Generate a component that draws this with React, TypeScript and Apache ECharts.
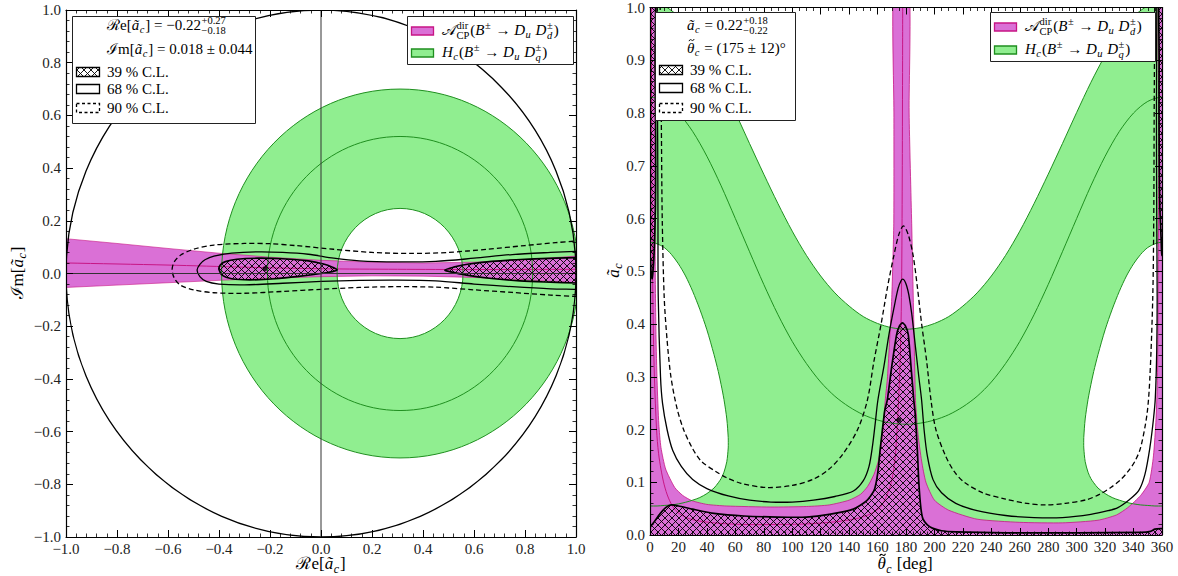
import React, { useEffect, useRef } from "react";
import * as echarts from "echarts";

type Pt = [number, number];

const FONT = '"Liberation Serif", "DejaVu Serif", serif';
const GREEN = "#90ee90";
const GREEN_EDGE = "#1f8f1f";
const ORCHID = "#da70d6";
const MVR = "#c71585";

// ================= Left panel: complex plane of a_c =================
const hcCenter: Pt = [0.31, 0];
const hcOuterR = 0.7;
const hcMiddleR = 0.52;
const hcInnerR = 0.247;
const unitCenter: Pt = [0, 0];
const unitR = 1;

const acpUpper: Pt[] = [[-1.05, 0.136], [-1.0, 0.132], [-0.8, 0.114], [-0.6, 0.095], [-0.4, 0.077], [-0.2, 0.062], [0.0, 0.05], [0.2, 0.043], [0.4, 0.04], [0.6, 0.043], [0.8, 0.052], [1.0, 0.066], [1.05, 0.07]];
const acpLower: Pt[] = [[-1.05, -0.056], [-1.0, -0.053], [-0.8, -0.044], [-0.6, -0.035], [-0.4, -0.026], [-0.2, -0.018], [0.0, -0.012], [0.2, -0.009], [0.4, -0.01], [0.6, -0.015], [0.8, -0.024], [1.0, -0.035], [1.05, -0.038]];
const acpCenter: Pt[] = [[-1.05, 0.041], [-1.0, 0.04], [-0.6, 0.032], [-0.3, 0.024], [0.0, 0.018], [0.3, 0.016], [0.6, 0.015], [1.0, 0.016], [1.05, 0.016]];

const cl39LobeLeft: Pt[] = [[-0.4, 0.015], [-0.395, 0.032], [-0.375, 0.045], [-0.33, 0.054], [-0.25, 0.058], [-0.15, 0.056], [-0.05, 0.048], [0.01, 0.036], [0.045, 0.024], [0.063, 0.014], [0.045, 0.007], [0.0, 0.0], [-0.08, -0.01], [-0.18, -0.02], [-0.28, -0.024], [-0.35, -0.02], [-0.385, -0.008]];
const cl39LobeRight: Pt[] = [[0.486, 0.013], [0.52, 0.024], [0.58, 0.036], [0.67, 0.046], [0.8, 0.054], [0.92, 0.058], [1.0, 0.06], [1.06, 0.061], [1.06, -0.038], [1.0, -0.036], [0.9, -0.033], [0.78, -0.028], [0.66, -0.018], [0.57, -0.006], [0.51, 0.006]];
const cl68Contour: Pt[] = [[-0.486, 0.013], [-0.475, 0.035], [-0.455, 0.052], [-0.42, 0.066], [-0.35, 0.077], [-0.25, 0.082], [-0.15, 0.08], [-0.05, 0.073], [0.05, 0.058], [0.15, 0.048], [0.3, 0.044], [0.45, 0.046], [0.6, 0.058], [0.75, 0.072], [0.9, 0.08], [1.0, 0.084], [1.06, 0.086], [1.06, -0.062], [1.0, -0.06], [0.9, -0.058], [0.75, -0.05], [0.6, -0.04], [0.45, -0.028], [0.3, -0.025], [0.15, -0.026], [0.0, -0.03], [-0.15, -0.037], [-0.3, -0.043], [-0.4, -0.04], [-0.45, -0.03], [-0.475, -0.012]];
const cl90Contour: Pt[] = [[-0.584, 0.015], [-0.575, 0.045], [-0.55, 0.07], [-0.5, 0.092], [-0.42, 0.108], [-0.3, 0.114], [-0.2, 0.113], [-0.1, 0.106], [0.05, 0.092], [0.2, 0.08], [0.35, 0.076], [0.5, 0.08], [0.65, 0.092], [0.8, 0.106], [0.92, 0.117], [1.0, 0.123], [1.06, 0.127], [1.06, -0.09], [1.0, -0.087], [0.9, -0.082], [0.75, -0.072], [0.6, -0.062], [0.45, -0.052], [0.3, -0.05], [0.15, -0.053], [0.0, -0.06], [-0.15, -0.068], [-0.3, -0.075], [-0.42, -0.073], [-0.5, -0.062], [-0.55, -0.045], [-0.575, -0.018]];
const bestFitComplex: Pt = [-0.22, 0.018];

// ================= Right panel: (theta_c [deg], |a_c|) =================
const hcOuterPolar: Pt[] = [[-10, 1.003], [0, 1.01], [10, 1.003], [20, 0.983], [30, 0.951], [40, 0.909], [50, 0.858], [60, 0.801], [70, 0.742], [80, 0.684], [90, 0.628], [100, 0.576], [110, 0.53], [120, 0.491], [130, 0.459], [140, 0.434], [150, 0.414], [160, 0.401], [170, 0.393], [180, 0.39], [190, 0.393], [200, 0.401], [210, 0.414], [220, 0.434], [230, 0.459], [240, 0.491], [250, 0.53], [260, 0.576], [270, 0.628], [280, 0.684], [290, 0.742], [300, 0.801], [310, 0.858], [320, 0.909], [330, 0.951], [340, 0.983], [350, 1.003], [360, 1.01], [370, 1.003]];
const hcMiddlePolar: Pt[] = [[-10, 0.822], [0, 0.83], [10, 0.822], [20, 0.8], [30, 0.765], [40, 0.718], [50, 0.662], [60, 0.6], [70, 0.537], [80, 0.475], [90, 0.4175], [100, 0.367], [110, 0.325], [120, 0.29], [130, 0.263], [140, 0.243], [150, 0.228], [160, 0.218], [170, 0.212], [180, 0.21], [190, 0.212], [200, 0.218], [210, 0.228], [220, 0.243], [230, 0.263], [240, 0.29], [250, 0.325], [260, 0.367], [270, 0.4175], [280, 0.475], [290, 0.537], [300, 0.6], [310, 0.662], [320, 0.718], [330, 0.765], [340, 0.8], [350, 0.822], [360, 0.83], [370, 0.822]];
const hcHoleLeft: Pt[] = [[-10, 0.545], [-5, 0.552], [0, 0.555], [5, 0.552], [10, 0.545], [15, 0.532], [20, 0.514], [25, 0.491], [30, 0.462], [35, 0.428], [40, 0.389], [45, 0.342], [48, 0.31], [50, 0.285], [52, 0.257], [54, 0.22], [55, 0.185], [55.05, 0.175], [55, 0.165], [54, 0.139], [52, 0.119], [50, 0.107], [48, 0.099], [45, 0.089], [40, 0.0785], [35, 0.071], [30, 0.066], [25, 0.062], [20, 0.059], [15, 0.057], [10, 0.056], [5, 0.055], [0, 0.055], [-5, 0.055], [-10, 0.056]];
const hcHoleRight: Pt[] = [[370, 0.545], [365, 0.552], [360, 0.555], [355, 0.552], [350, 0.545], [345, 0.532], [340, 0.514], [335, 0.491], [330, 0.462], [325, 0.428], [320, 0.389], [315, 0.342], [312, 0.31], [310, 0.285], [308, 0.257], [306, 0.22], [305, 0.185], [304.95, 0.175], [305, 0.165], [306, 0.139], [308, 0.119], [310, 0.107], [312, 0.099], [315, 0.089], [320, 0.0785], [325, 0.071], [330, 0.066], [335, 0.062], [340, 0.059], [345, 0.057], [350, 0.056], [355, 0.055], [360, 0.055], [365, 0.055], [370, 0.056]];

const acpPolarRegion: Pt[] = [[-5, -0.05], [-5, 1.05], [3.5, 1.05], [3.5, 0.9], [3.6, 0.7], [3.7, 0.5], [4.2, 0.38], [5, 0.29], [6.2, 0.21], [7.7, 0.166], [11, 0.125], [17.4, 0.09], [23, 0.075], [29.5, 0.065], [40, 0.058], [53.6, 0.055], [85, 0.053], [110, 0.054], [126, 0.057], [140, 0.066], [148, 0.077], [153, 0.092], [157.5, 0.115], [160.5, 0.14], [162.5, 0.17], [164, 0.205], [165.4, 0.255], [167, 0.3], [168.5, 0.37], [170, 0.45], [171.4, 0.59], [171.5, 0.8], [171.5, 1.05], [182, 1.05], [182.2, 0.8], [184, 0.59], [185.5, 0.4], [186.7, 0.255], [188.5, 0.19], [191, 0.14], [194, 0.1], [200, 0.066], [210, 0.047], [230, 0.03], [260, 0.024], [290, 0.023], [315, 0.028], [328, 0.038], [336, 0.052], [345, 0.075], [351, 0.1], [354, 0.15], [355.8, 0.22], [356.8, 0.3], [357.4, 0.5], [357.7, 0.8], [357.8, 1.05], [365, 1.05], [365, -0.05]];
const acpCenterPolar: Pt[] = [[0.9, 1.05], [1.0, 0.9], [1.2, 0.75], [1.5, 0.6], [1.9, 0.48], [2.4, 0.38], [3.1, 0.3], [4.6, 0.2], [6.0, 0.155], [7.7, 0.125], [10, 0.095], [13, 0.07], [17, 0.05], [22, 0.038], [30, 0.029], [45, 0.023], [65, 0.02], [90, 0.02], [110, 0.021], [130, 0.025], [145, 0.031], [155, 0.04], [162, 0.053], [166, 0.072], [169, 0.093], [171, 0.118], [172.5, 0.15], [173.5, 0.19], [174.5, 0.24], [175.5, 0.3], [176.5, 0.4], [177, 0.5], [177.4, 0.7], [177.6, 0.9], [177.7, 1.05]];

const cl39PolarLeftStrip: Pt[] = [[-2, 0.53], [0, 0.53], [0.7, 0.5], [1.5, 0.486], [2.5, 0.515], [3.1, 0.55], [3.8, 0.62], [4.0, 0.7], [3.9, 0.8], [3.6, 0.9], [3.5, 1.05], [-2, 1.05]];
const cl39PolarRightStrip: Pt[] = [[362, 0.53], [360, 0.53], [359.4, 0.56], [358.5, 0.62], [358.1, 0.7], [357.9, 0.8], [358, 0.9], [358, 1.05], [362, 1.05]];
const cl39PolarBottom: Pt[] = [[-2, -0.05], [-2, 0.012], [0, 0.015], [3, 0.025], [7, 0.04], [11, 0.052], [15, 0.057], [20, 0.055], [30, 0.049], [45, 0.041], [66, 0.036], [90, 0.034], [110, 0.034], [126, 0.039], [143, 0.049], [152, 0.064], [157.5, 0.084], [160, 0.115], [162, 0.166], [165, 0.235], [166.8, 0.255], [170, 0.32], [173.4, 0.38], [175.5, 0.397], [177.5, 0.402], [179.5, 0.397], [181.6, 0.38], [183.5, 0.32], [185.5, 0.255], [186.5, 0.229], [188, 0.16], [189, 0.1], [190.5, 0.05], [192, 0.03], [195, 0.019], [198.5, 0.013], [205, 0.008], [215, 0.006], [250, 0.004], [300, 0.004], [345, 0.005], [352, 0.007], [355, 0.011], [360, 0.012], [362, 0.012], [362, -0.05]];
const cl68Polar: Pt[] = [[4.9, 1.05], [5.1, 0.9], [5.4, 0.75], [5.6, 0.6], [5.8, 0.45], [7.4, 0.3], [8.8, 0.25], [12, 0.2], [16, 0.16], [22, 0.13], [30, 0.105], [40, 0.088], [55, 0.074], [70, 0.066], [85, 0.0625], [100, 0.0625], [115, 0.066], [130, 0.073], [143, 0.0835], [150, 0.103], [154, 0.13], [156.5, 0.17], [158.5, 0.215], [160.2, 0.255], [164.5, 0.32], [168, 0.38], [171.5, 0.43], [174.5, 0.468], [176.5, 0.482], [177.7, 0.485], [179, 0.482], [180.5, 0.472], [182, 0.455], [184, 0.42], [186.5, 0.36], [189, 0.3], [191, 0.255], [192.7, 0.2], [195, 0.15], [199, 0.105], [205, 0.08], [215, 0.06], [230, 0.046], [250, 0.037], [270, 0.033], [290, 0.033], [310, 0.039], [322, 0.046], [329, 0.052], [337, 0.067], [343.6, 0.084], [348, 0.115], [351.5, 0.166], [354, 0.22], [355.3, 0.26], [356.3, 0.35], [356.6, 0.45], [356.3, 0.6], [356.1, 0.8], [356.4, 1.05]];
const cl90Polar: Pt[] = [[7.1, 1.05], [7.3, 0.9], [7.9, 0.8], [8.6, 0.6], [10, 0.45], [12, 0.37], [14.7, 0.3], [19, 0.24], [23.6, 0.2], [29.5, 0.166], [36, 0.14], [46.5, 0.12], [53.6, 0.109], [64, 0.098], [82, 0.09], [100, 0.094], [115, 0.106], [126, 0.125], [136, 0.155], [146, 0.2], [152.8, 0.255], [157.5, 0.33], [162.5, 0.4], [167, 0.47], [171.5, 0.53], [175, 0.57], [178.2, 0.586], [181.5, 0.57], [185, 0.53], [188, 0.47], [191, 0.4], [194.5, 0.33], [197.6, 0.255], [201, 0.2], [207.8, 0.15], [214, 0.12], [221, 0.1], [234, 0.08], [250, 0.068], [265, 0.06], [278, 0.057], [292, 0.06], [307, 0.067], [316, 0.077], [324, 0.09], [331, 0.105], [336, 0.12], [341, 0.14], [345, 0.166], [349.5, 0.23], [351.5, 0.3], [353.5, 0.45], [354.2, 0.6], [354.5, 0.8], [355, 1.05]];
const bestFitPolar: Pt = [175, 0.218];

// ================= Legend / label texts =================
type Seg = { t?: string; it?: boolean; tilde?: boolean; sup?: string; sub?: string; supIt?: boolean; subIt?: boolean };
const legendReLine: Seg[] = [{ t: "\u211B" }, { t: "e[" }, { t: "\u00E3", it: true }, { sub: "c", it: true }, { t: "] = \u22120.22" }, { sup: "+0.27", sub: "\u22120.18" }];
const legendImLine: Seg[] = [{ t: "\u2110" }, { t: "m[" }, { t: "\u00E3", it: true }, { sub: "c", it: true }, { t: "] = 0.018 \u00B1 0.044" }];
const legendAbsLine: Seg[] = [{ t: "\u00E3", it: true }, { sub: "c", it: true }, { t: " = 0.22" }, { sup: "+0.18", sub: "\u22120.22" }];
const legendThetaLine: Seg[] = [{ t: "\u03B8", it: true, tilde: true }, { sub: "c", it: true }, { t: " = (175 \u00B1 12)\u00B0" }];
const clLabels = ["39 % C.L.", "68 % C.L.", "90 % C.L."];
const acpLabel: Seg[] = [{ t: "\uD835\uDC9C" }, { sup: "dir", sub: "CP" }, { t: "(" }, { t: "B", it: true }, { sup: "\u00B1" }, { t: " \u2192 " }, { t: "D", it: true }, { sub: "u", it: true }, { t: " " }, { t: "D", it: true }, { sup: "\u00B1", sub: "d", subIt: true }, { t: ")" }];
const hcLabel: Seg[] = [{ t: "H", it: true }, { sub: "c", it: true }, { t: "(" }, { t: "B", it: true }, { sup: "\u00B1" }, { t: " \u2192 " }, { t: "D", it: true }, { sub: "u", it: true }, { t: " " }, { t: "D", it: true }, { sup: "\u00B1", sub: "q", subIt: true }, { t: ")" }];
const xTitleLeft: Seg[] = [{ t: "\u211B" }, { t: "e[" }, { t: "\u00E3", it: true }, { sub: "c", it: true }, { t: "]" }];
const yTitleLeft: Seg[] = [{ t: "\u2110" }, { t: "m[" }, { t: "\u00E3", it: true }, { sub: "c", it: true }, { t: "]" }];
const xTitleRight: Seg[] = [{ t: "\u03B8", it: true, tilde: true }, { sub: "c", it: true }, { t: " [deg]" }];
const yTitleRight: Seg[] = [{ t: "\u00E3", it: true }, { sub: "c", it: true }];

// ================= helpers =================
let measureCtx: any = null;
const fontStr = (size: number, it: boolean) => `${it ? "italic " : ""}${size}px ${FONT}`;
function textW(t: string, size: number, it: boolean) {
  if (!measureCtx) measureCtx = document.createElement("canvas").getContext("2d");
  measureCtx.font = fontStr(size, it);
  return measureCtx.measureText(t).width;
}

function mathText(segs: Seg[], x0: number, baseline: number, size: number, anchor: "left" | "center" = "left", z = 101) {
  const small = Math.round(size * 0.7 * 10) / 10;
  const items: any[] = [];
  const tildes: any[] = [];
  let x = 0;
  for (const s of segs) {
    if (s.t !== undefined) {
      const w = textW(s.t, size, !!s.it);
      items.push({ text: s.t, x, dy: 0, size, it: !!s.it });
      if (s.tilde) tildes.push({ cx: x + w * 0.62, w: size * 0.34, cy: -0.86 * size, h: size * 0.07 });
      x += w;
    } else {
      let w = 0;
      const both = s.sup !== undefined && s.sub !== undefined;
      if (s.sup !== undefined) {
        const it = s.supIt ?? !!s.it;
        items.push({ text: s.sup, x: x + 0.5, dy: both ? -0.42 * size : -0.38 * size, size: small, it });
        w = Math.max(w, textW(s.sup, small, it));
      }
      if (s.sub !== undefined) {
        const it = s.subIt ?? !!s.it;
        items.push({ text: s.sub, x: x + 0.5, dy: both ? 0.28 * size : 0.2 * size, size: small, it });
        w = Math.max(w, textW(s.sub, small, it));
      }
      x += w + 1.5;
    }
  }
  const off = anchor === "center" ? -x / 2 : 0;
  const out: any[] = items.map((it) => ({
    type: "text",
    z,
    silent: true,
    x: x0 + off + it.x,
    y: baseline + it.dy - 0.34 * it.size,
    style: { text: it.text, font: fontStr(it.size, it.it), fill: "#000", align: "left", verticalAlign: "middle" },
  }));
  for (const t of tildes) {
    const cx = x0 + off + t.cx;
    const cy = baseline + t.cy;
    out.push({
      type: "bezierCurve",
      z,
      silent: true,
      shape: { x1: cx - t.w / 2, y1: cy + t.h, cpx1: cx - t.w / 6, cpy1: cy - 3 * t.h, cpx2: cx + t.w / 6, cpy2: cy + 3 * t.h, x2: cx + t.w / 2, y2: cy - t.h },
      style: { stroke: "#000", fill: "none", lineWidth: Math.max(0.9, size / 16) },
    });
  }
  return out;
}

function makeHatch() {
  const s = 7;
  const c = document.createElement("canvas");
  c.width = s;
  c.height = s;
  const ctx = c.getContext("2d")!;
  ctx.strokeStyle = "#000";
  ctx.lineWidth = 0.9;
  ctx.beginPath();
  for (const k of [-s, 0, s]) {
    ctx.moveTo(k - 1, -1);
    ctx.lineTo(k + s + 1, s + 1);
    ctx.moveTo(k - 1, s + 1);
    ctx.lineTo(k + s + 1, -1);
  }
  ctx.stroke();
  return c;
}

function customSeries(grid: number, render: (api: any) => any) {
  return {
    type: "custom",
    coordinateSystem: "cartesian2d",
    xAxisIndex: grid * 2,
    yAxisIndex: grid * 2,
    clip: true,
    silent: true,
    data: [[grid ? 180 : 0, grid ? 0.5 : 0]],
    renderItem: (_p: any, api: any) => render(api),
  };
}
const poly = (api: any, pts: Pt[], style: any, smooth = 0, type = "polygon") => ({
  type,
  shape: { points: pts.map((p) => api.coord(p)), smooth },
  style,
});
const ell = (api: any, c: Pt, r: number, style: any) => {
  const p = api.coord(c);
  const s = api.size([r, r]);
  return { type: "ellipse", shape: { cx: p[0], cy: p[1], rx: s[0], ry: s[1] }, style };
};

const fmt1 = (v: number) => (Math.abs(v) < 1e-9 ? 0 : v).toFixed(1).replace("-", "\u2212");
const fmt0 = (v: number) => String(Math.round(v));

function mkAxis(grid: number, pos: string, min: number, max: number, interval: number, minorSplit: number, fmt: any, showLabel: boolean, margin: number) {
  return {
    type: "value",
    gridIndex: grid,
    position: pos,
    min,
    max,
    interval,
    axisLine: { show: true, onZero: false, lineStyle: { color: "#000", width: 1.2 } },
    axisTick: { show: true, inside: true, length: 7, lineStyle: { color: "#000", width: 1 } },
    minorTick: { show: true, splitNumber: minorSplit, length: 3.5, lineStyle: { color: "#000", width: 0.8 } },
    splitLine: { show: false },
    minorSplitLine: { show: false },
    axisLabel: { show: showLabel, formatter: fmt, fontFamily: FONT, fontSize: 15, color: "#222", margin },
    z: 50,
  };
}

function buildOption() {
  const hatch = { image: makeHatch(), repeat: "repeat", imageWidth: 7, imageHeight: 7 };
  const L = 0;
  const R = 1;
  const bandPts: Pt[] = [...acpUpper, ...acpLower.slice().reverse()];
  const hcFillPolar: Pt[] = [...hcOuterPolar, [370, -0.05], [-10, -0.05]];
  const black68 = { fill: "none", stroke: "#000", lineWidth: 1.3 };
  const black90 = { fill: "none", stroke: "#000", lineWidth: 1.3, lineDash: [5, 3] };
  const hatchStyle = { fill: hatch, stroke: "#000", lineWidth: 1.7 };

  const series: any[] = [
    // ---------- left ----------
    customSeries(L, (api) => ({
      type: "group",
      children: [ell(api, hcCenter, hcOuterR, { fill: GREEN, stroke: "none" }), ell(api, hcCenter, hcInnerR, { fill: "#fff", stroke: "none" })],
    })),
    customSeries(L, (api) => poly(api, bandPts, { fill: ORCHID, stroke: MVR, lineWidth: 0.6 })),
    customSeries(L, (api) => poly(api, acpCenter, { fill: "none", stroke: MVR, lineWidth: 1 }, 0.3, "polyline")),
    customSeries(L, (api) => ({
      type: "group",
      children: [hcOuterR, hcMiddleR, hcInnerR].map((r) => ell(api, hcCenter, r, { fill: "none", stroke: GREEN_EDGE, lineWidth: 1 })),
    })),
    customSeries(L, (api) => ({
      type: "group",
      children: [poly(api, cl39LobeLeft, hatchStyle, 0.3), poly(api, cl39LobeRight, hatchStyle, 0.3)],
    })),
    customSeries(L, (api) => poly(api, cl68Contour, black68, 0.3)),
    customSeries(L, (api) => poly(api, cl90Contour, black90, 0.3)),
    customSeries(L, (api) => ({
      type: "group",
      children: [
        ell(api, unitCenter, unitR, { fill: "none", stroke: "#000", lineWidth: 1.3 }),
        poly(api, [[-1, 0], [1, 0]], { fill: "none", stroke: "#333", lineWidth: 1 }, 0, "polyline"),
        poly(api, [[0, -1], [0, 1]], { fill: "none", stroke: "#333", lineWidth: 1 }, 0, "polyline"),
      ],
    })),
    { type: "scatter", xAxisIndex: 0, yAxisIndex: 0, symbolSize: 5, itemStyle: { color: "#000" }, data: [bestFitComplex], silent: true },
    // ---------- right ----------
    customSeries(R, (api) => poly(api, hcFillPolar, { fill: GREEN, stroke: "none" }, 0.3)),
    customSeries(R, (api) => ({
      type: "group",
      children: [poly(api, hcHoleLeft, { fill: "#fff", stroke: "none" }, 0.3), poly(api, hcHoleRight, { fill: "#fff", stroke: "none" }, 0.3)],
    })),
    customSeries(R, (api) => poly(api, acpPolarRegion, { fill: ORCHID, stroke: MVR, lineWidth: 0.8 }, 0.2)),
    customSeries(R, (api) => poly(api, acpCenterPolar, { fill: "none", stroke: MVR, lineWidth: 1 }, 0.3, "polyline")),
    customSeries(R, (api) => ({
      type: "group",
      children: [
        poly(api, hcOuterPolar, { fill: "none", stroke: GREEN_EDGE, lineWidth: 1 }, 0.3, "polyline"),
        poly(api, hcMiddlePolar, { fill: "none", stroke: GREEN_EDGE, lineWidth: 1 }, 0.3, "polyline"),
        poly(api, hcHoleLeft, { fill: "none", stroke: GREEN_EDGE, lineWidth: 1 }, 0.3),
        poly(api, hcHoleRight, { fill: "none", stroke: GREEN_EDGE, lineWidth: 1 }, 0.3),
      ],
    })),
    customSeries(R, (api) => ({
      type: "group",
      children: [
        poly(api, cl39PolarBottom, hatchStyle, 0.2),
        poly(api, cl39PolarLeftStrip, hatchStyle, 0.2),
        poly(api, cl39PolarRightStrip, hatchStyle, 0.2),
      ],
    })),
    customSeries(R, (api) => poly(api, cl68Polar, black68, 0.3, "polyline")),
    customSeries(R, (api) => poly(api, cl90Polar, black90, 0.3, "polyline")),
    { type: "scatter", xAxisIndex: 2, yAxisIndex: 2, symbolSize: 5, itemStyle: { color: "#000" }, data: [bestFitPolar], silent: true },
  ];

  // ---------- legends & titles ----------
  const els: any[] = [];
  const box = (x: number, y: number, w: number, h: number) =>
    els.push({ type: "rect", z: 100, silent: true, shape: { x: x + 0.5, y: y + 0.5, width: w, height: h }, style: { fill: "#fff", stroke: "#222", lineWidth: 1 } });
  const swatch = (x: number, cy: number, style: any, w = 23, h = 9) => {
    els.push({ type: "rect", z: 101, silent: true, shape: { x: x + 0.5, y: cy - h / 2, width: w, height: h }, style: { fill: "#fff", stroke: "none" } });
    els.push({ type: "rect", z: 102, silent: true, shape: { x: x + 0.5, y: cy - h / 2, width: w, height: h }, style });
  };
  const clBlock = (bx: number, centers: number[]) => {
    const styles = [
      { fill: hatch, stroke: "#000", lineWidth: 1.3 },
      { fill: "none", stroke: "#000", lineWidth: 1.3 },
      { fill: "none", stroke: "#000", lineWidth: 1.3, lineDash: [3, 2.5] },
    ];
    centers.forEach((cy, i) => {
      swatch(bx + 4, cy, styles[i]);
      els.push(...mathText([{ t: clLabels[i] }], bx + 35, cy + 5, 15));
    });
  };

  // left panel, upper-left legend
  box(72, 16, 183, 107);
  els.push(...mathText(legendReLine, 107, 30, 15));
  els.push(...mathText(legendImLine, 107, 54, 15));
  clBlock(72, [72, 89, 108]);
  // left panel, upper-right legend
  box(407, 16, 166, 48);
  swatch(411, 31, { fill: ORCHID, stroke: MVR, lineWidth: 1.3 }, 22, 8);
  els.push(...mathText(acpLabel, 442, 35, 15));
  swatch(411, 53, { fill: GREEN, stroke: GREEN_EDGE, lineWidth: 1.3 }, 22, 8);
  els.push(...mathText(hcLabel, 442, 57, 15));

  // right panel, upper-left legend
  box(655, 12, 140, 108);
  els.push(...mathText(legendAbsLine, 687, 30, 15));
  els.push(...mathText(legendThetaLine, 687, 53, 15));
  clBlock(655, [70, 88, 108]);
  // right panel, upper-right legend
  box(990, 12, 165, 49);
  swatch(994, 27, { fill: ORCHID, stroke: MVR, lineWidth: 1.3 }, 22, 8);
  els.push(...mathText(acpLabel, 1025, 31, 15));
  swatch(994, 50, { fill: GREEN, stroke: GREEN_EDGE, lineWidth: 1.3 }, 22, 8);
  els.push(...mathText(hcLabel, 1025, 54, 15));

  // axis titles
  els.push(...mathText(xTitleLeft, 321, 569.5, 17, "center"));
  els.push(...mathText(xTitleRight, 905, 569.5, 17, "center"));
  els.push({ type: "group", x: 17, y: 273, rotation: Math.PI / 2, z: 101, children: mathText(yTitleLeft, 0, 0.34 * 17, 17, "center") });
  els.push({ type: "group", x: 613, y: 270, rotation: Math.PI / 2, z: 101, children: mathText(yTitleRight, 0, 0.34 * 17, 17, "center") });

  return {
    animation: false,
    backgroundColor: "#fff",
    grid: [
      { left: 66, top: 10, width: 510, height: 527 },
      { left: 650, top: 7, width: 512, height: 528 },
    ],
    xAxis: [
      mkAxis(0, "bottom", -1, 1, 0.2, 5, fmt1, true, 4),
      mkAxis(0, "top", -1, 1, 0.2, 5, fmt1, false, 4),
      mkAxis(1, "bottom", 0, 360, 20, 4, fmt0, true, 4),
      mkAxis(1, "top", 0, 360, 20, 4, fmt0, false, 4),
    ],
    yAxis: [
      mkAxis(0, "left", -1, 1, 0.2, 5, fmt1, true, 5),
      mkAxis(0, "right", -1, 1, 0.2, 5, fmt1, false, 5),
      mkAxis(1, "left", 0, 1, 0.1, 5, fmt1, true, 5),
      mkAxis(1, "right", 0, 1, 0.1, 5, fmt1, false, 5),
    ],
    series,
    graphic: { elements: els },
  };
}

export default function App() {
  const ref = useRef<HTMLDivElement>(null);
  useEffect(() => {
    document.body.style.margin = "0";
    const chart = echarts.init(ref.current!, undefined, { renderer: "svg" });
    chart.setOption(buildOption() as any);
    return () => chart.dispose();
  }, []);
  return <div ref={ref} style={{ width: 1178, height: 576, overflow: "hidden" }} />;
}
